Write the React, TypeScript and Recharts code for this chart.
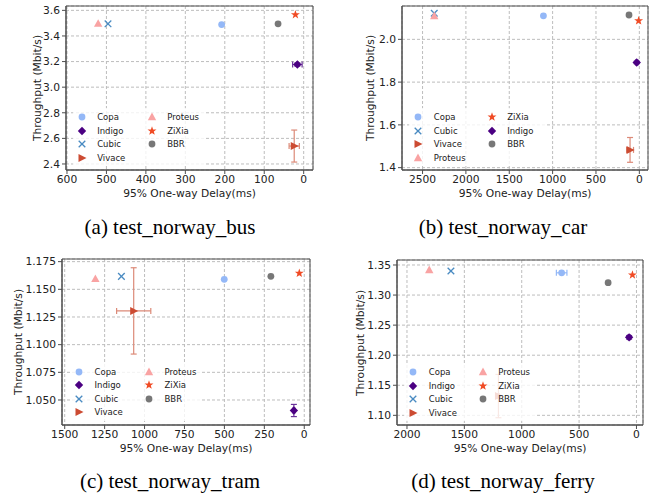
import React from "react";
import {
  CartesianGrid,
  ErrorBar,
  Legend,
  ReferenceArea,
  Scatter,
  ScatterChart,
  XAxis,
  YAxis,
} from "recharts";

const algorithms = ["Copa", "Indigo", "Cubic", "Vivace", "Proteus", "ZiXia", "BBR"];

// (a) test_norway_bus
const busDelay = [208, 16, 496, 24, 521, 21, 65];
const busThroughput = [3.489, 3.177, 3.495, 2.54, 3.496, 3.566, 3.495];
const busDelayErr = [0, 12, 0, 13, 0, 0, 0];
const busThroughputErr = [0, 0.012, 0, 0.125, 0, 0, 0];
const busXTicks = [600, 500, 400, 300, 200, 100, 0];
const busYTicks = [2.4, 2.6, 2.8, 3.0, 3.2, 3.4, 3.6];
const busLegend = ["Copa", "Indigo", "Cubic", "Vivace", "Proteus", "ZiXia", "BBR"];

// (b) test_norway_car
const carDelay = [1106, 30, 2365, 107, 2365, 8, 119];
const carThroughput = [2.11, 1.892, 2.122, 1.483, 2.109, 2.087, 2.114];
const carDelayErr = [0, 14, 0, 40, 0, 0, 0];
const carThroughputErr = [0, 0.006, 0, 0.058, 0, 0, 0];
const carXTicks = [2500, 2000, 1500, 1000, 500, 0];
const carYTicks = [1.4, 1.6, 1.8, 2.0];
const carLegend = ["Copa", "Cubic", "Vivace", "Proteus", "ZiXia", "Indigo", "BBR"];

// (c) test_norway_tram
const tramDelay = [501, 65, 1145, 1068, 1308, 31, 209];
const tramThroughput = [1.159, 1.0405, 1.1617, 1.1305, 1.1594, 1.1645, 1.1617];
const tramDelayErr = [0, 6, 0, 107, 0, 0, 0];
const tramThroughputErr = [0, 0.0055, 0, 0.039, 0, 0, 0];
const tramXTicks = [1500, 1250, 1000, 750, 500, 250, 0];
const tramYTicks = [1.05, 1.075, 1.1, 1.125, 1.15, 1.175];

// (d) test_norway_ferry
const ferryDelay = [652, 64, 1617, 1203, 1806, 35, 247];
const ferryThroughput = [1.337, 1.2297, 1.34, 1.132, 1.3417, 1.3334, 1.3206];
const ferryDelayErr = [46, 9, 0, 8, 0, 0, 0];
const ferryThroughputErr = [0, 0.003, 0, 0.036, 0, 0, 0];
const ferryXTicks = [2000, 1500, 1000, 500, 0];
const ferryYTicks = [1.1, 1.15, 1.2, 1.25, 1.3, 1.35];

type Kind = "circle" | "diamond" | "x" | "triRight" | "triUp" | "star";

const algoStyle: Record<string, { color: string; kind: Kind; errColor: string }> = {
  Copa: { color: "#94b8f7", kind: "circle", errColor: "#94b8f7" },
  Indigo: { color: "#4b0082", kind: "diamond", errColor: "#6a3399" },
  Cubic: { color: "#4a8bc2", kind: "x", errColor: "#4a8bc2" },
  Vivace: { color: "#cc4b32", kind: "triRight", errColor: "#dc8a78" },
  Proteus: { color: "#f9a3a3", kind: "triUp", errColor: "#f9a3a3" },
  ZiXia: { color: "#f04b25", kind: "star", errColor: "#f04b25" },
  BBR: { color: "#777777", kind: "circle", errColor: "#777777" },
};

const FONT = "'DejaVu Sans', sans-serif";
const AXIS = "#4d4d4d";
const GRID = "#bdbdbd";
const TEXT = "#222222";

function Glyph({ kind, cx, cy, color }: { kind: Kind; cx: number; cy: number; color: string }) {
  if (kind === "circle") return <circle cx={cx} cy={cy} r={3.4} fill={color} />;
  if (kind === "diamond")
    return (
      <path
        d={`M${cx},${cy - 4.2}L${cx + 4.2},${cy}L${cx},${cy + 4.2}L${cx - 4.2},${cy}Z`}
        fill={color}
      />
    );
  if (kind === "x")
    return (
      <g stroke={color} strokeWidth={1.3}>
        <line x1={cx - 3.3} y1={cy - 3.3} x2={cx + 3.3} y2={cy + 3.3} />
        <line x1={cx - 3.3} y1={cy + 3.3} x2={cx + 3.3} y2={cy - 3.3} />
      </g>
    );
  if (kind === "triRight")
    return <path d={`M${cx - 3.5},${cy - 4}L${cx + 4.5},${cy}L${cx - 3.5},${cy + 4}Z`} fill={color} />;
  if (kind === "triUp")
    return <path d={`M${cx},${cy - 4.5}L${cx + 4.2},${cy + 3.2}L${cx - 4.2},${cy + 3.2}Z`} fill={color} />;
  const pts: string[] = [];
  for (let i = 0; i < 10; i++) {
    const r = i % 2 === 0 ? 4.7 : 1.9;
    const a = -Math.PI / 2 + (i * Math.PI) / 5;
    pts.push(`${cx + r * Math.cos(a)},${cy + r * Math.sin(a)}`);
  }
  return <polygon points={pts.join(" ")} fill={color} />;
}

type PanelCfg = {
  caption: string;
  left: number;
  top: number;
  width: number;
  height: number;
  plot: { l: number; r: number; t: number; b: number };
  delay: number[];
  throughput: number[];
  delayErr: number[];
  throughputErr: number[];
  xTicks: number[];
  yTicks: number[];
  xDomain: [number, number];
  yDomain: [number, number];
  yDecimals: number;
  legendOrder: string[];
  legendAt: { c1: number; c2: number; y0: number };
  yTitleX: number;
  xTitleY: number;
  captionX: number;
  captionY: number;
};

function LegendBox({ cfg }: { cfg: PanelCfg }) {
  const { c1, c2, y0 } = cfg.legendAt;
  const boxL = c1 - 9;
  const boxT = y0 - 9;
  const w = c2 - c1 + 62;
  const h = 4 * 13.5 + 4;
  return (
    <div
      style={{
        position: "relative",
        width: w,
        height: h,
        background: "rgba(255,255,255,0.8)",
        fontFamily: FONT,
        fontSize: 8.5,
        color: TEXT,
      }}
    >
      {cfg.legendOrder.map((name, i) => {
        const col = i < 4 ? c1 : c2;
        const row = i < 4 ? i : i - 4;
        const mx = col - boxL;
        const my = y0 + row * 13.5 - boxT;
        const st = algoStyle[name];
        return (
          <React.Fragment key={name}>
            <svg
              width={12}
              height={12}
              style={{ position: "absolute", left: mx - 6, top: my - 6, overflow: "visible" }}
            >
              <Glyph kind={st.kind} cx={6} cy={6} color={st.color} />
            </svg>
            <span
              style={{
                position: "absolute",
                left: mx + 15.5,
                top: my - 6,
                lineHeight: "12px",
                whiteSpace: "nowrap",
              }}
            >
              {name}
            </span>
          </React.Fragment>
        );
      })}
    </div>
  );
}

function Panel({ cfg }: { cfg: PanelCfg }) {
  const { plot } = cfg;
  const fmt = (v: number) => v.toFixed(cfg.yDecimals);
  const tickStyle = { fontFamily: FONT, fontSize: 10.7, fill: TEXT };
  const boxL = cfg.legendAt.c1 - 9;
  const boxT = cfg.legendAt.y0 - 9;
  return (
    <div
      style={{
        position: "absolute",
        left: cfg.left,
        top: cfg.top,
        width: cfg.width,
        height: cfg.height + 50,
      }}
    >
      <ScatterChart
        width={cfg.width}
        height={cfg.height}
        margin={{ top: plot.t, right: cfg.width - plot.r, bottom: 0, left: 0 }}
      >
        <CartesianGrid stroke={GRID} strokeDasharray="3 2" />
        <XAxis
          type="number"
          dataKey="delay"
          domain={cfg.xDomain}
          ticks={cfg.xTicks}
          interval={0}
          reversed
          allowDataOverflow
          height={cfg.height - plot.b}
          tickSize={4}
          tickMargin={1}
          stroke={AXIS}
          tick={tickStyle}
        />
        <YAxis
          type="number"
          dataKey="tput"
          domain={cfg.yDomain}
          ticks={cfg.yTicks}
          interval={0}
          allowDataOverflow
          width={plot.l}
          tickSize={4}
          tickMargin={2}
          stroke={AXIS}
          tick={tickStyle}
          tickFormatter={fmt}
        />
        <ReferenceArea
          x1={cfg.xDomain[0]}
          x2={cfg.xDomain[1]}
          y1={cfg.yDomain[0]}
          y2={cfg.yDomain[1]}
          fill="none"
          stroke={AXIS}
          strokeWidth={1}
        />
        {cfg.legendOrder.map((name) => {
          const i = algorithms.indexOf(name);
          const st = algoStyle[name];
          const point = {
            delay: cfg.delay[i],
            tput: cfg.throughput[i],
            delayErr: cfg.delayErr[i],
            tputErr: cfg.throughputErr[i],
          };
          return (
            <Scatter
              key={name}
              name={name}
              data={[point]}
              fill={st.color}
              isAnimationActive={false}
              shape={(p: any) => <Glyph kind={st.kind} cx={p.cx} cy={p.cy} color={st.color} />}
            >
              {cfg.delayErr[i] > 0 ? (
                <ErrorBar
                  dataKey="delayErr"
                  direction="x"
                  width={3}
                  stroke={st.errColor}
                  strokeWidth={1.2}
                  isAnimationActive={false}
                />
              ) : null}
              {cfg.throughputErr[i] > 0 ? (
                <ErrorBar
                  dataKey="tputErr"
                  direction="y"
                  width={3}
                  stroke={st.errColor}
                  strokeWidth={1.2}
                  isAnimationActive={false}
                />
              ) : null}
            </Scatter>
          );
        })}
        <Legend
          layout="horizontal"
          verticalAlign="middle"
          align="center"
          wrapperStyle={{ left: boxL, top: boxT, width: "auto" }}
          content={() => <LegendBox cfg={cfg} />}
        />
      </ScatterChart>
      <div
        style={{
          position: "absolute",
          left: cfg.yTitleX,
          top: (plot.t + plot.b) / 2,
          transform: "translate(-50%, -50%) rotate(-90deg)",
          fontFamily: FONT,
          fontSize: 10.7,
          color: TEXT,
          whiteSpace: "nowrap",
        }}
      >
        Throughput (Mbit/s)
      </div>
      <div
        style={{
          position: "absolute",
          left: (plot.l + plot.r) / 2,
          top: cfg.xTitleY,
          transform: "translate(-50%, -50%)",
          fontFamily: FONT,
          fontSize: 10.7,
          color: TEXT,
          whiteSpace: "nowrap",
        }}
      >
        95% One-way Delay(ms)
      </div>
      <div
        style={{
          position: "absolute",
          left: cfg.captionX,
          top: cfg.captionY,
          transform: "translate(-50%, -50%)",
          fontFamily: "'Liberation Serif', serif",
          fontSize: 21,
          color: "#000",
          whiteSpace: "nowrap",
        }}
      >
        {cfg.caption}
      </div>
    </div>
  );
}

const panels: PanelCfg[] = [
  {
    caption: "(a) test_norway_bus",
    left: 0,
    top: 0,
    width: 330,
    height: 210,
    plot: { l: 66, r: 313, t: 6, b: 170 },
    delay: busDelay,
    throughput: busThroughput,
    delayErr: busDelayErr,
    throughputErr: busThroughputErr,
    xTicks: busXTicks,
    yTicks: busYTicks,
    xDomain: [-23.6, 602.5],
    yDomain: [2.353, 3.634],
    yDecimals: 1,
    legendOrder: busLegend,
    legendAt: { c1: 81.7, c2: 151.7, y0: 117.3 },
    yTitleX: 36.7,
    xTitleY: 192.7,
    captionX: 170,
    captionY: 227,
  },
  {
    caption: "(b) test_norway_car",
    left: 330,
    top: 0,
    width: 331,
    height: 210,
    plot: { l: 72, r: 318, t: 6, b: 170 },
    delay: carDelay,
    throughput: carThroughput,
    delayErr: carDelayErr,
    throughputErr: carThroughputErr,
    xTicks: carXTicks,
    yTicks: carYTicks,
    xDomain: [-100, 2737],
    yDomain: [1.389, 2.156],
    yDecimals: 1,
    legendOrder: carLegend,
    legendAt: { c1: 88.3, c2: 161.7, y0: 117.3 },
    yTitleX: 40,
    xTitleY: 192.7,
    captionX: 173,
    captionY: 227,
  },
  {
    caption: "(c) test_norway_tram",
    left: 0,
    top: 250,
    width: 330,
    height: 210,
    plot: { l: 62, r: 310, t: 9, b: 175 },
    delay: tramDelay,
    throughput: tramThroughput,
    delayErr: tramDelayErr,
    throughputErr: tramThroughputErr,
    xTicks: tramXTicks,
    yTicks: tramYTicks,
    xDomain: [-36, 1517],
    yDomain: [1.0274, 1.1774],
    yDecimals: 3,
    legendOrder: busLegend,
    legendAt: { c1: 79, c2: 149, y0: 121.7 },
    yTitleX: 18.3,
    xTitleY: 197.7,
    captionX: 170,
    captionY: 231,
  },
  {
    caption: "(d) test_norway_ferry",
    left: 330,
    top: 250,
    width: 331,
    height: 210,
    plot: { l: 67, r: 313, t: 10, b: 175 },
    delay: ferryDelay,
    throughput: ferryThroughput,
    delayErr: ferryDelayErr,
    throughputErr: ferryThroughputErr,
    xTicks: ferryXTicks,
    yTicks: ferryYTicks,
    xDomain: [-57, 2087],
    yDomain: [1.0839, 1.3583],
    yDecimals: 2,
    legendOrder: busLegend,
    legendAt: { c1: 83.3, c2: 152.7, y0: 122.3 },
    yTitleX: 30,
    xTitleY: 197.7,
    captionX: 173,
    captionY: 231,
  },
];

export default function App() {
  return (
    <div
      style={{
        position: "absolute",
        left: 0,
        top: 0,
        width: 661,
        height: 495,
        background: "#fff",
        overflow: "hidden",
      }}
    >
      {panels.map((cfg) => (
        <Panel key={cfg.caption} cfg={cfg} />
      ))}
    </div>
  );
}
